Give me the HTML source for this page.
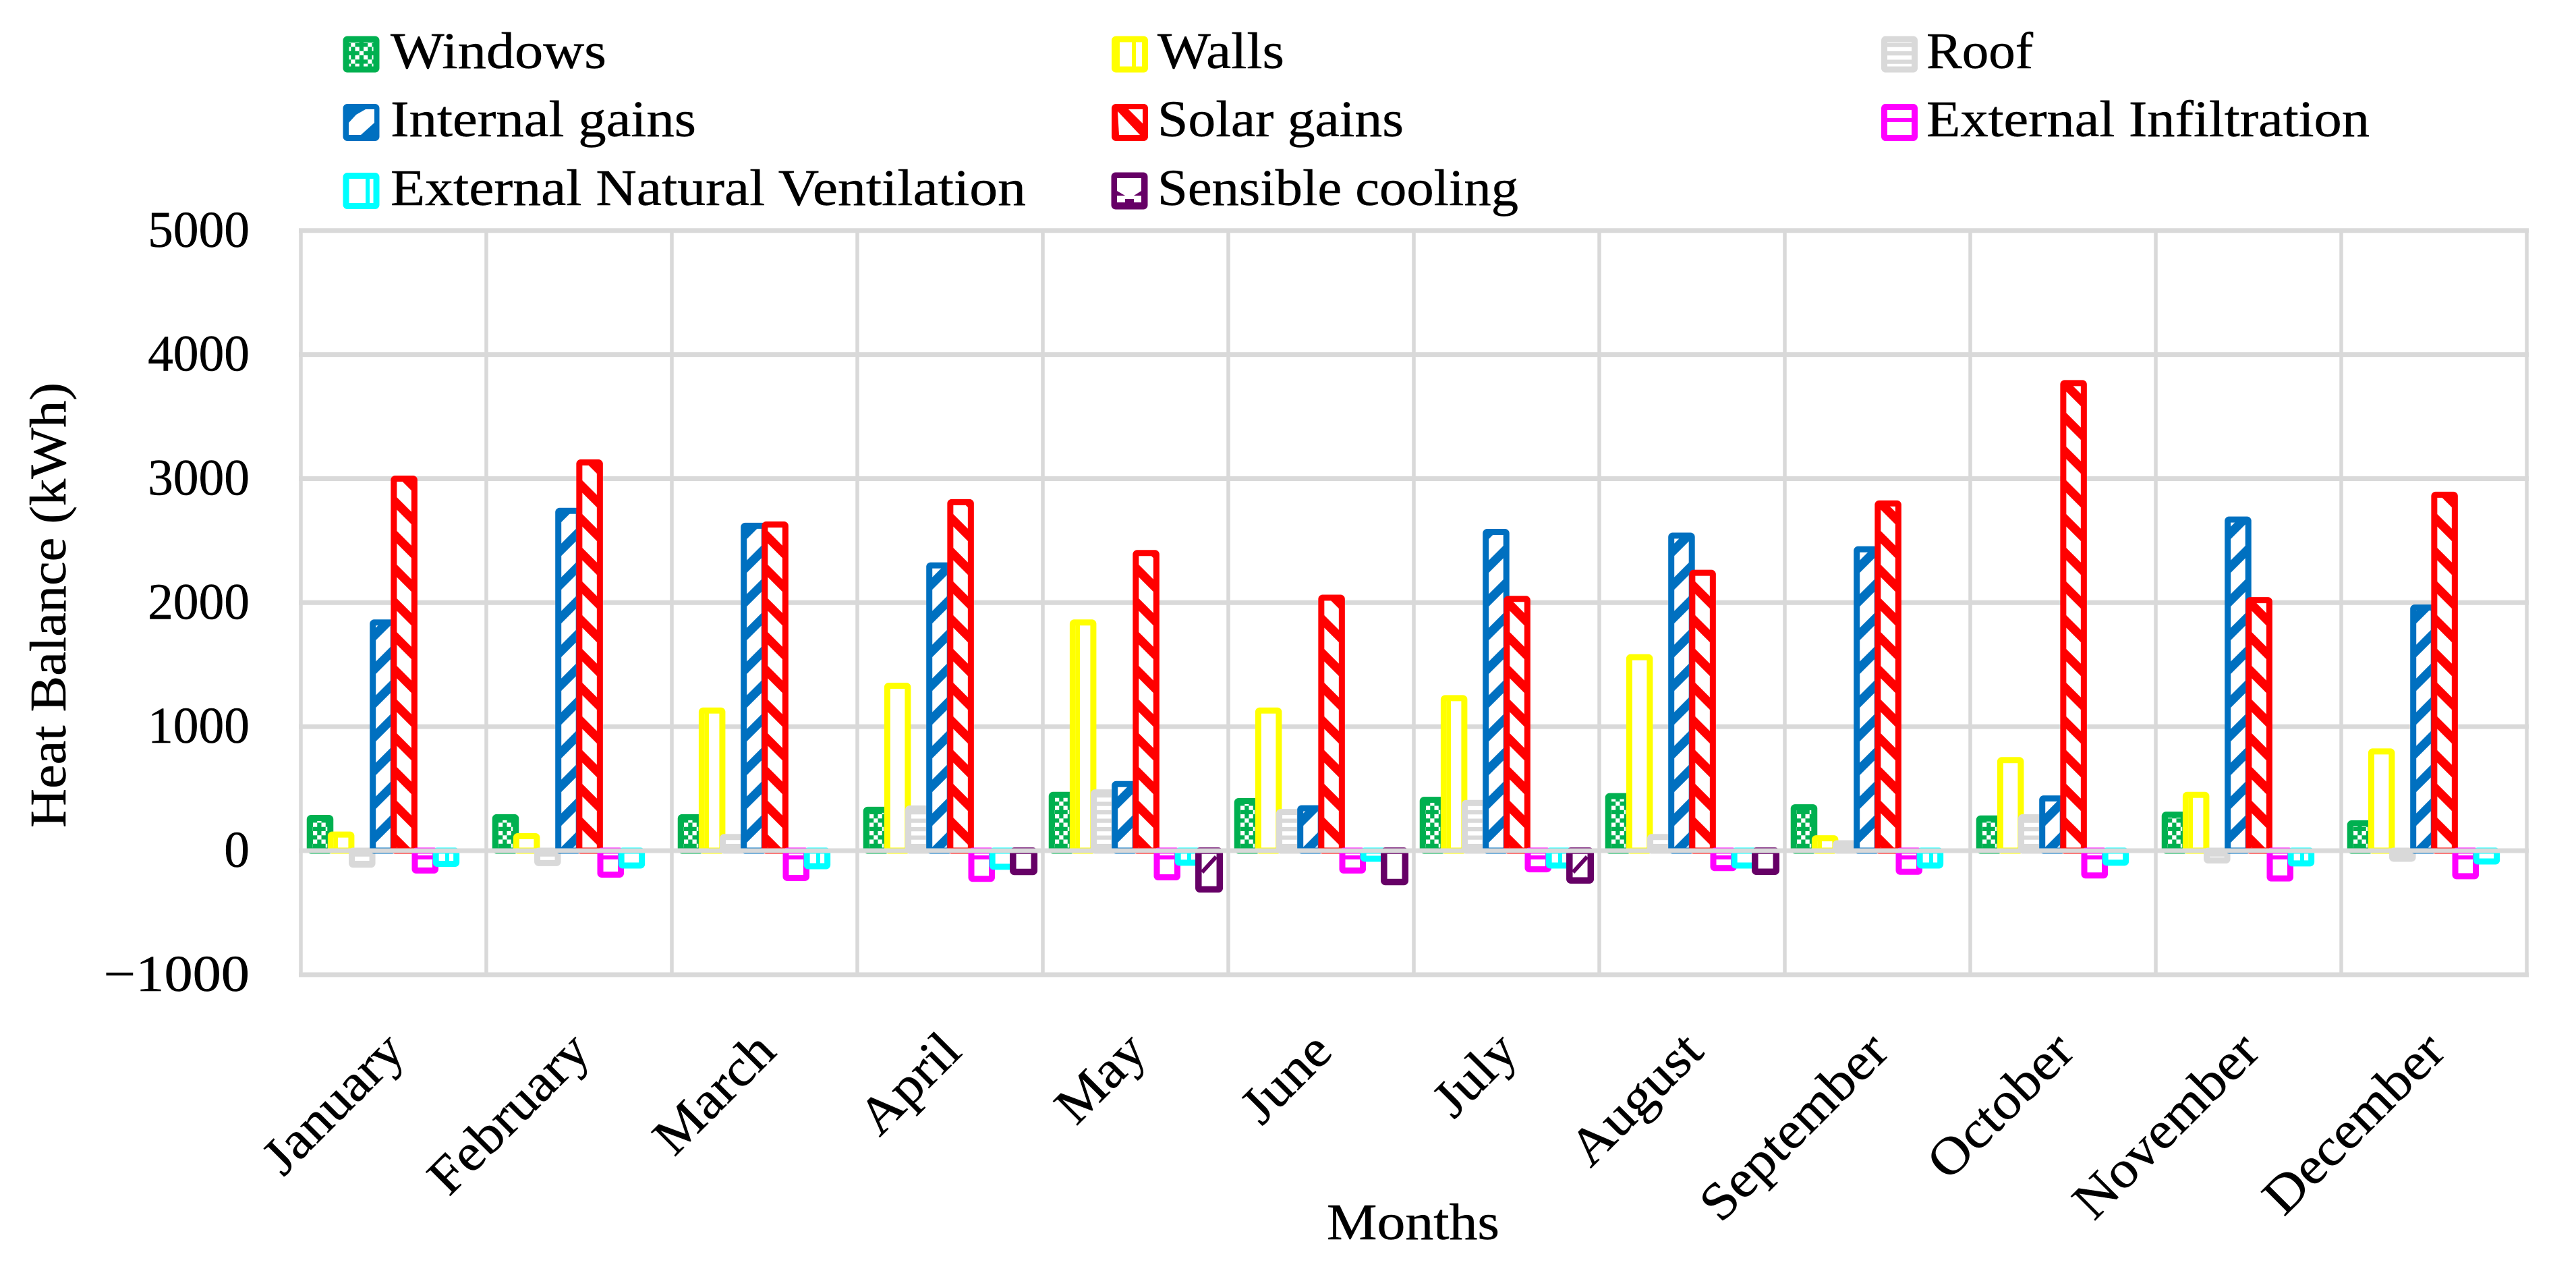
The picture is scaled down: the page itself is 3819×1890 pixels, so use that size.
<!DOCTYPE html>
<html lang="en">
<head>
<meta charset="utf-8">
<title>Monthly Heat Balance</title>
<style>
html,body{margin:0;padding:0;background:#fff;}
svg{display:block;}
text{font-family:"Liberation Serif",serif;font-size:76px;fill:#000;stroke:#000;stroke-width:0.5px;}
</style>
</head>
<body>
<svg id="chart" xmlns="http://www.w3.org/2000/svg" width="3819" height="1890" viewBox="0 0 3819 1890">
<defs>
  <pattern id="p-windows" patternUnits="userSpaceOnUse" width="25" height="25" patternTransform="translate(14,7)">
    <rect width="25" height="25" fill="#00b050"/>
    <rect x="0" y="0" width="6.25" height="6.25" fill="#fff"/>
    <rect x="12.5" y="0" width="6.25" height="6.25" fill="#fff"/>
    <rect x="6.25" y="6.25" width="6.25" height="6.25" fill="#fff"/>
    <rect x="0" y="12.5" width="6.25" height="6.25" fill="#fff"/>
    <rect x="12.5" y="12.5" width="6.25" height="6.25" fill="#fff"/>
    <rect x="18.75" y="18.75" width="6.25" height="6.25" fill="#fff"/>
  </pattern>
  <pattern id="p-walls" patternUnits="userSpaceOnUse" width="50" height="50">
    <rect width="50" height="50" fill="#fff"/>
    <rect x="45" y="0" width="5" height="50" fill="#ffff00"/>
    <rect x="0" y="0" width="1" height="50" fill="#ffff00"/>
  </pattern>
  <pattern id="p-roof" patternUnits="userSpaceOnUse" width="12.5" height="12.5">
    <rect width="12.5" height="12.5" fill="#fff"/>
    <rect x="0" y="1" width="12.5" height="6.25" fill="#d9d9d9"/>
  </pattern>
  <pattern id="p-internal" patternUnits="userSpaceOnUse" width="50" height="50">
    <rect width="50" height="50" fill="#fff"/>
    <g stroke="#0070c0" stroke-width="13" fill="none">
      <line x1="-60" y1="107" x2="107" y2="-60"/>
      <line x1="-60" y1="57" x2="57" y2="-60"/>
      <line x1="-10" y1="107" x2="107" y2="-10"/>
    </g>
  </pattern>
  <pattern id="p-solar" patternUnits="userSpaceOnUse" width="50" height="50">
    <rect width="50" height="50" fill="#fff"/>
    <g stroke="#ff0000" stroke-width="13" fill="none">
      <line x1="-60" y1="-52" x2="110" y2="118"/>
      <line x1="-60" y1="-102" x2="110" y2="68"/>
      <line x1="-60" y1="-2" x2="110" y2="168"/>
    </g>
  </pattern>
  <pattern id="p-infiltration" patternUnits="userSpaceOnUse" width="50" height="50">
    <rect width="50" height="50" fill="#fff"/>
    <rect x="0" y="18" width="50" height="6" fill="#ff00ff"/>
  </pattern>
  <pattern id="p-ventilation" patternUnits="userSpaceOnUse" width="50" height="50">
    <rect width="50" height="50" fill="#fff"/>
    <rect x="10" y="0" width="6" height="50" fill="#00ffff"/>
  </pattern>
  <pattern id="p-cooling" patternUnits="userSpaceOnUse" width="50" height="50">
    <rect width="50" height="50" fill="#fff"/>
    <g stroke="#660066" stroke-width="6" fill="none">
      <line x1="32" y1="43" x2="53" y2="20"/>
      <line x1="-18" y1="43" x2="3" y2="20"/>
    </g>
  </pattern>
</defs>

<rect x="0" y="0" width="3819" height="1890" fill="#ffffff"/>

<g id="gridlines"></g>
<g id="bars"></g>
<g id="zero-axis"></g>
<g id="y-ticks"></g>
<g id="x-ticks"></g>

<text transform="translate(97,1227) rotate(-90)" textLength="660" lengthAdjust="spacingAndGlyphs">Heat Balance (kWh)</text>
<text x="1967" y="1837" textLength="256" lengthAdjust="spacingAndGlyphs">Months</text>

<g>
  <g>
    <rect x="513" y="58" width="45" height="45" rx="2" fill="url(#p-windows)" stroke="#00b050" stroke-width="9"/>
    <text x="579" y="101" textLength="320" lengthAdjust="spacingAndGlyphs">Windows</text>
  </g>
  <g>
    <rect x="1652.500" y="58" width="45" height="45" rx="2" fill="#fff" stroke="#ffff00" stroke-width="9"/>
    <rect x="1657" y="58" width="3" height="45" fill="#ffff00"/>
    <rect x="1678" y="58" width="6" height="45" fill="#ffff00"/>
    <text x="1716" y="101" textLength="188" lengthAdjust="spacingAndGlyphs">Walls</text>
  </g>
  <g>
    <rect x="2793.500" y="58" width="45" height="45" rx="2" fill="url(#p-roof)" stroke="#d9d9d9" stroke-width="9"/>
    <text x="2856" y="101" textLength="158" lengthAdjust="spacingAndGlyphs">Roof</text>
  </g>
  <g>
    <rect x="513" y="158.500" width="45" height="46" rx="2" fill="#0070c0" stroke="#0070c0" stroke-width="9"/>
    <polygon points="517,200 517,182 528,170 542,162 555,162 555,182 535,200" fill="#fff"/>
    <text x="579" y="202" textLength="453" lengthAdjust="spacingAndGlyphs">Internal gains</text>
  </g>
  <g>
    <rect x="1652.500" y="158.500" width="45" height="46" rx="2" fill="#ff0000" stroke="#ff0000" stroke-width="9"/>
    <polygon points="1657,165 1690,200 1659,200" fill="#fff"/>
    <polygon points="1673,162 1694,162 1694,183" fill="#fff"/>
    <text x="1716" y="202" textLength="365" lengthAdjust="spacingAndGlyphs">Solar gains</text>
  </g>
  <g>
    <rect x="2793.500" y="158.500" width="45" height="46" rx="2" fill="#fff" stroke="#ff00ff" stroke-width="9"/>
    <rect x="2793.500" y="175" width="45" height="6" fill="#ff00ff"/>
    <text x="2856" y="202" textLength="657" lengthAdjust="spacingAndGlyphs">External Infiltration</text>
  </g>
  <g>
    <rect x="513" y="260.500" width="45" height="45" rx="2" fill="#fff" stroke="#00ffff" stroke-width="9"/>
    <rect x="542" y="260.500" width="6" height="45" fill="#00ffff"/>
    <text x="579" y="304" textLength="942" lengthAdjust="spacingAndGlyphs">External Natural Ventilation</text>
  </g>
  <g>
    <rect x="1652" y="260" width="45" height="46" rx="2" fill="#660066" stroke="#660066" stroke-width="9"/>
    <polygon points="1656,264 1692,264 1692,283 1681,290 1681,295 1668,295 1668,290 1656,283" fill="#fff"/>
    <rect x="1656" y="290" width="12" height="10" fill="#fff"/>
    <rect x="1681" y="290" width="11" height="10" fill="#fff"/>
    <text x="1716" y="304" textLength="535" lengthAdjust="spacingAndGlyphs">Sensible cooling</text>
  </g>
</g>
</svg>

<script>
const months = ["January","February","March","April","May","June","July","August","September","October","November","December"];
const yTickValues = [-1000,0,1000,2000,3000,4000,5000];
const yTickLabels = ["\u22121000","0","1000","2000","3000","4000","5000"];

const windows = [264,270,270,330,450,400,410,440,350,260,290,220];
const walls = [130,117,1130,1330,1840,1130,1230,1560,100,730,450,800];
const roof = [-113,-100,110,340,470,312,385,110,60,270,-79,-65];
const internalGains = [1840,2740,2620,2300,537,342,2570,2540,2430,421,2670,1960];
const solarGains = [3000,3130,2630,2810,2400,2040,2030,2240,2800,3770,2020,2870];
const externalInfiltration = [-160,-193,-220,-227,-215,-160,-150,-140,-170,-200,-224,-206];
const externalVentilation = [-106,-120,-125,-130,-97,-65,-120,-120,-120,-97,-103,-87];
const sensibleCooling = [0,0,0,-171,-312,-253,-240,-170,0,0,0,0];

const seriesKeys = ["windows","walls","roof","internal-gains","solar-gains","external-infiltration","external-ventilation","sensible-cooling"];
const seriesValues = [windows,walls,roof,internalGains,solarGains,externalInfiltration,externalVentilation,sensibleCooling];
const seriesColors = ["#00b050","#ffff00","#d9d9d9","#0070c0","#ff0000","#ff00ff","#00ffff","#660066"];
const seriesFills = ["p-windows","p-walls","p-roof","p-internal","p-solar","p-infiltration","p-ventilation","p-cooling"];

const SVGNS = "http://www.w3.org/2000/svg";
const plotLeft = 446, monthWidth = 275, barPitch = 31.15, barOffset = 28.5;
const zeroY = 1261, pxPerUnit = 0.18385;
function yScale(v){ return zeroY - v * pxPerUnit; }
function xMonth(i){ return plotLeft + i * monthWidth; }
function xBar(i, s){ return xMonth(i) + barOffset + s * barPitch; }
function make(tag, attrs){
  const el = document.createElementNS(SVGNS, tag);
  for (const k in attrs) el.setAttribute(k, attrs[k]);
  return el;
}

const gridG = document.getElementById("gridlines");
yTickValues.forEach(function(v){
  if (v === 0) return;
  const l = make("line",{x1:plotLeft-3,x2:xMonth(12)+3,y1:yScale(v),y2:yScale(v),stroke:"#d9d9d9","stroke-width":7});
  
  
  gridG.appendChild(l);
});
for (let i = 0; i <= 12; i++){
  const l = make("line",{x1:xMonth(i),x2:xMonth(i),y1:yScale(5000),y2:yScale(-1000),stroke:"#d9d9d9","stroke-width":5.5});
  
  
  gridG.appendChild(l);
}

const barsG = document.getElementById("bars");
seriesValues.forEach(function(vals, s){
  const sw = s === 7 ? 9.5 : 9;
  const outer = s === 7 ? 41 : 39.5;
  vals.forEach(function(v, i){
    if (v === 0) return;
    const top = Math.min(yScale(v), yScale(0));
    const h = Math.abs(yScale(v) - yScale(0));
    const r = make("rect",{x:xBar(i,s)-(outer-sw)/2,y:top,width:outer-sw,height:h,rx:2,fill:"url(#"+seriesFills[s]+")",stroke:seriesColors[s],"stroke-width":sw});
    
    
    barsG.appendChild(r);
  });
});

const zeroG = document.getElementById("zero-axis");
const zl = make("line",{x1:plotLeft-3,x2:xMonth(12)+3,y1:yScale(0),y2:yScale(0),stroke:"#d9d9d9","stroke-width":7});


zeroG.appendChild(zl);

const yG = document.getElementById("y-ticks");
yTickValues.forEach(function(v, i){
  const t = make("text",{x:370,y:yScale(v)+24,"text-anchor":"end"});
  t.textContent = yTickLabels[i];
  
  
  yG.appendChild(t);
  const k = yTickLabels[i].length > 4 ? 1.11 : 0.993;
  t.setAttribute("textLength", t.getComputedTextLength() * k);
  t.setAttribute("lengthAdjust", "spacingAndGlyphs");
});

const xG = document.getElementById("x-ticks");
months.forEach(function(m, i){
  const ax = xMonth(i) + monthWidth/2 + 20;
  const t = make("text",{transform:"translate("+ax+",1562) rotate(-45)","text-anchor":"end"});
  t.style.fontSize = "78px";
  t.textContent = m;
  
  
  xG.appendChild(t);
  t.setAttribute("textLength", t.getComputedTextLength() * 1.07);
  t.setAttribute("lengthAdjust", "spacingAndGlyphs");
});
</script>
</body>
</html>
